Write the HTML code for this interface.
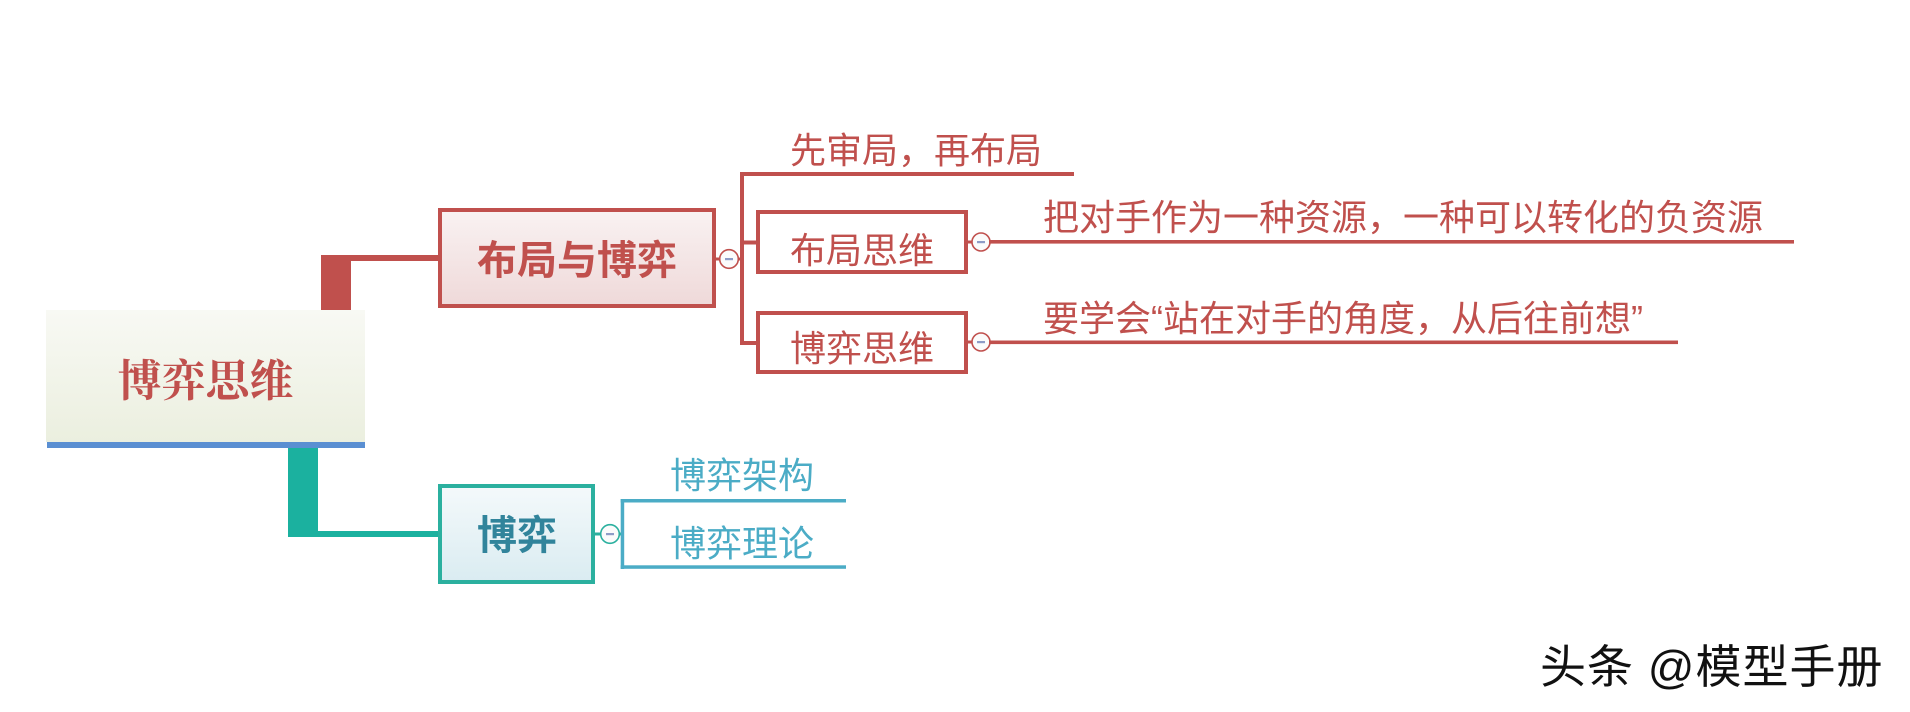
<!DOCTYPE html>
<html>
<head>
<meta charset="utf-8">
<style>
  html, body { margin: 0; padding: 0; background: #ffffff; }
  body { width: 1910px; height: 712px; overflow: hidden; }
  svg { display: block; }
  .sans { font-family: "Liberation Sans", "Noto Sans CJK SC", sans-serif; }
  .serif { font-family: "Liberation Serif", "Noto Serif CJK SC", serif; }
</style>
</head>
<body>
<svg width="1910" height="712" viewBox="0 0 1910 712" xmlns="http://www.w3.org/2000/svg">
  <defs>
    <linearGradient id="gRoot" x1="0" y1="0" x2="0" y2="1">
      <stop offset="0" stop-color="#f8f9f4"/>
      <stop offset="1" stop-color="#ebefdf"/>
    </linearGradient>
    <linearGradient id="gRed" x1="0" y1="0" x2="0" y2="1">
      <stop offset="0" stop-color="#f9f2f2"/>
      <stop offset="1" stop-color="#efd9d9"/>
    </linearGradient>
    <linearGradient id="gTeal" x1="0" y1="0" x2="0" y2="1">
      <stop offset="0" stop-color="#f4f9fb"/>
      <stop offset="1" stop-color="#daecf1"/>
    </linearGradient>
  </defs>

  <!-- Root node -->
  <rect x="46" y="310" width="319" height="132" fill="url(#gRoot)"/>
  <rect x="47" y="442" width="318" height="6" fill="#5a8fd2"/>
  <text x="205.5" y="396" text-anchor="middle" class="serif" font-size="44" font-weight="bold" fill="#c0504d">博弈思维</text>

  <!-- Red connector root -> 布局与博弈 -->
  <rect x="321" y="255" width="30" height="55" fill="#c0504d"/>
  <rect x="351" y="255" width="88" height="6" fill="#c0504d"/>

  <!-- Teal connector root -> 博弈 -->
  <rect x="288" y="448" width="30" height="89" fill="#1bb19f"/>
  <rect x="318" y="531" width="121" height="6" fill="#1bb19f"/>

  <!-- 布局与博弈 node -->
  <rect x="440" y="210" width="274" height="96" fill="url(#gRed)" stroke="#c0504d" stroke-width="4"/>
  <text x="577" y="274" text-anchor="middle" class="sans" font-size="40" font-weight="bold" fill="#c0504d">布局与博弈</text>

  <!-- collapse circle -->
  <rect x="716" y="257.5" width="5" height="3" fill="#c0504d"/>
  <rect x="737" y="257.5" width="5" height="3" fill="#c0504d"/>
  <circle cx="729" cy="259" r="9.3" fill="#fbfbfb" stroke="#c0504d" stroke-width="1.6"/>
  <rect x="725" y="258" width="8" height="2.2" fill="#8e9cc7"/>

  <!-- bracket -->
  <rect x="740" y="172" width="4" height="173" fill="#c0504d"/>
  <rect x="740" y="172" width="334" height="4" fill="#c0504d"/>
  <rect x="740" y="240.5" width="18" height="4" fill="#c0504d"/>
  <rect x="740" y="341" width="18" height="4" fill="#c0504d"/>

  <text x="790" y="163" class="sans" font-size="36" fill="#c0504d">先审局，再布局</text>

  <!-- 布局思维 -->
  <rect x="758" y="212" width="208" height="60" fill="#ffffff" stroke="#c0504d" stroke-width="4"/>
  <text x="862" y="263" text-anchor="middle" class="sans" font-size="36" fill="#c0504d">布局思维</text>

  <!-- 博弈思维 -->
  <rect x="758" y="313" width="208" height="59" fill="#ffffff" stroke="#c0504d" stroke-width="4"/>
  <text x="862" y="361" text-anchor="middle" class="sans" font-size="36" fill="#c0504d">博弈思维</text>

  <!-- circles for sub nodes -->
  <rect x="968" y="240.5" width="5" height="3" fill="#c0504d"/>
  <circle cx="981" cy="242" r="9" fill="#fbfbfb" stroke="#c0504d" stroke-width="1.6"/>
  <rect x="977" y="241" width="8" height="2.2" fill="#8e9cc7"/>
  <rect x="989" y="240" width="805" height="3.6" fill="#c0504d"/>

  <rect x="968" y="340.5" width="5" height="3" fill="#c0504d"/>
  <circle cx="981" cy="342" r="9" fill="#fbfbfb" stroke="#c0504d" stroke-width="1.6"/>
  <rect x="977" y="341" width="8" height="2.2" fill="#8e9cc7"/>
  <rect x="989" y="340.5" width="689" height="3.6" fill="#c0504d"/>

  <text x="1043" y="230" class="sans" font-size="36" fill="#c0504d">把对手作为一种资源，一种可以转化的负资源</text>
  <text x="1043" y="331" class="sans" font-size="36" fill="#c0504d">要学会“站在对手的角度，从后往前想”</text>

  <!-- 博弈 node -->
  <rect x="440" y="486" width="153" height="96" fill="url(#gTeal)" stroke="#2bb09f" stroke-width="4"/>
  <text x="517" y="549" text-anchor="middle" class="sans" font-size="40" font-weight="bold" fill="#31849b">博弈</text>

  <rect x="595" y="532.5" width="6" height="3" fill="#2bb09f"/>
  <rect x="618" y="532.5" width="4" height="3" fill="#2bb09f"/>
  <circle cx="610" cy="534" r="9.3" fill="#fbfbfb" stroke="#2bb09f" stroke-width="1.6"/>
  <rect x="606" y="533" width="8" height="2.2" fill="#8e9cc7"/>

  <rect x="620.7" y="499" width="3.5" height="70" fill="#4bacc6"/>
  <rect x="620.7" y="499" width="225.3" height="3.5" fill="#4bacc6"/>
  <rect x="620.7" y="565.3" width="225.3" height="3.5" fill="#4bacc6"/>

  <text x="670" y="488" class="sans" font-size="36" fill="#4bacc6">博弈架构</text>
  <text x="670" y="556" class="sans" font-size="36" fill="#4bacc6">博弈理论</text>

  <!-- watermark -->
  <text x="1541" y="684" class="sans" font-size="46" fill="#ffffff" stroke="#ffffff" stroke-width="3" letter-spacing="1">头条 @模型手册</text>
  <text x="1540" y="683" class="sans" font-size="46" fill="#111111" letter-spacing="1">头条 @模型手册</text>
</svg>
</body>
</html>
